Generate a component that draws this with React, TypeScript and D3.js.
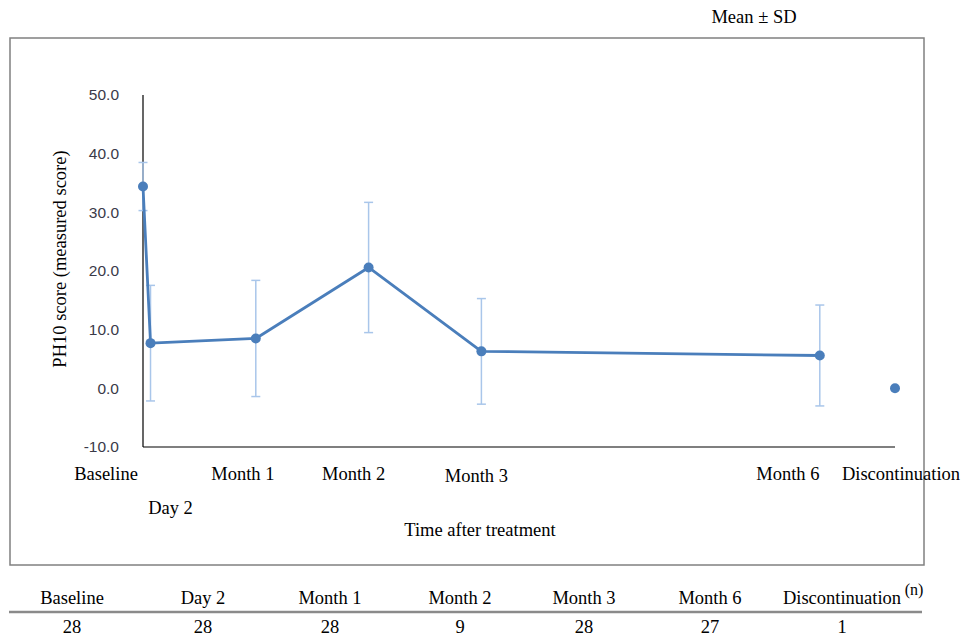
import React from 'react';
import * as d3 from 'd3';

const categories = ['Baseline', 'Day 2', 'Month 1', 'Month 2', 'Month 3', 'Month 6', 'Discontinuation'];
const days = [0, 2, 30, 60, 90, 180, 200];
const means = [34.4, 7.7, 8.5, 20.6, 6.3, 5.6, 0.0];
const sds: (number | null)[] = [4.1, 9.85, 9.9, 11.1, 9.0, 8.6, null];
const connected = [true, true, true, true, true, true, false];
const nCounts = [28, 28, 28, 9, 28, 27, 1];
const yTicks = [-10, 0, 10, 20, 30, 40, 50];

// label placement (style)
const labelDx = [-37, 20, -13, -15, -5, -32, 6];
const labelY = [480, 514, 480, 480, 482, 480, 480];
const tableX = [72, 203, 330, 460, 584, 710, 842];

const BLUE = '#4a7ebb';
const ERR = '#a9c6ea';
const SERIF = '"Liberation Serif", "Times New Roman", serif';
const SANS = '"Liberation Sans", Arial, sans-serif';
const FS = 18.5;

export default function App() {
  const x = d3.scaleLinear().domain([0, 200]).range([143, 895]);
  const y = d3.scaleLinear().domain([-10, 50]).range([447, 95]);
  const fmt = d3.formatLocale({ decimal: '.', thousands: ',', grouping: [3], currency: ['', ''], minus: '-' }).format('.1f');

  const lineData = days
    .map((d, i) => ({ d, m: means[i], c: connected[i] }))
    .filter((p) => p.c);
  const line = d3
    .line<{ d: number; m: number }>()
    .x((p) => x(p.d))
    .y((p) => y(p.m));

  return (
    <svg
      width={963}
      height={639}
      style={{ position: 'absolute', left: 0, top: 0, background: '#fff' }}
    >
      <rect x={0} y={0} width={963} height={639} fill="#fff" />
      <text x={754} y={23} fontFamily={SERIF} fontSize={FS} textAnchor="middle" fill="#000">
        Mean ± SD
      </text>
      {/* frame */}
      <rect x={10} y={38} width={914} height={527} fill="none" stroke="#808080" strokeWidth={1.5} />

      {/* axes */}
      <line x1={x(0)} x2={x(0)} y1={y(50)} y2={y(-10)} stroke="#000" strokeWidth={1.2} />
      <line x1={x(0)} x2={x(200)} y1={y(-10)} y2={y(-10)} stroke="#000" strokeWidth={1.2} />
      {yTicks.map((t) => (
        <text
          key={t}
          x={119}
          y={y(t)}
          dy="0.35em"
          textAnchor="end"
          fontFamily={SANS}
          fontSize={15.5}
          fill="#3a3a48"
        >
          {fmt(t)}
        </text>
      ))}

      {/* error bars */}
      {days.map((d, i) => {
        const s = sds[i];
        if (s == null) return null;
        const cx = x(d);
        const y1 = y(means[i] + s);
        const y2 = y(means[i] - s);
        return (
          <g key={'e' + i} stroke={ERR} strokeWidth={1.5}>
            <line x1={cx} x2={cx} y1={y1} y2={y2} />
            <line x1={cx - 4.5} x2={cx + 4.5} y1={y1} y2={y1} />
            <line x1={cx - 4.5} x2={cx + 4.5} y1={y2} y2={y2} />
          </g>
        );
      })}

      <path d={line(lineData) || ''} fill="none" stroke={BLUE} strokeWidth={2.8} strokeLinejoin="round" />
      {days.map((d, i) => (
        <circle key={'p' + i} cx={x(d)} cy={y(means[i])} r={5} fill={BLUE} />
      ))}

      {/* x labels */}
      {categories.map((c, i) => (
        <text
          key={'l' + i}
          x={x(days[i]) + labelDx[i]}
          y={labelY[i]}
          textAnchor="middle"
          fontFamily={SERIF}
          fontSize={FS}
          fill="#000"
        >
          {c}
        </text>
      ))}
      <text x={480} y={536} textAnchor="middle" fontFamily={SERIF} fontSize={FS} fill="#000">
        Time after treatment
      </text>
      <text
        transform="translate(66,259) rotate(-90)"
        textAnchor="middle"
        fontFamily={SERIF}
        fontSize={FS}
        fill="#000"
      >
        PH10 score (measured score)
      </text>

      {/* table */}
      {categories.map((c, i) => (
        <text key={'h' + i} x={tableX[i]} y={604} textAnchor="middle" fontFamily={SERIF} fontSize={FS} fill="#000">
          {c}
        </text>
      ))}
      <text x={914} y={595} textAnchor="middle" fontFamily={SERIF} fontSize={16} fill="#000">
        (n)
      </text>
      <line x1={9} x2={922} y1={612} y2={612} stroke="#8a8a8a" strokeWidth={2.5} />
      {nCounts.map((n, i) => (
        <text key={'n' + i} x={tableX[i]} y={633} textAnchor="middle" fontFamily={SERIF} fontSize={FS} fill="#000">
          {n}
        </text>
      ))}
    </svg>
  );
}
